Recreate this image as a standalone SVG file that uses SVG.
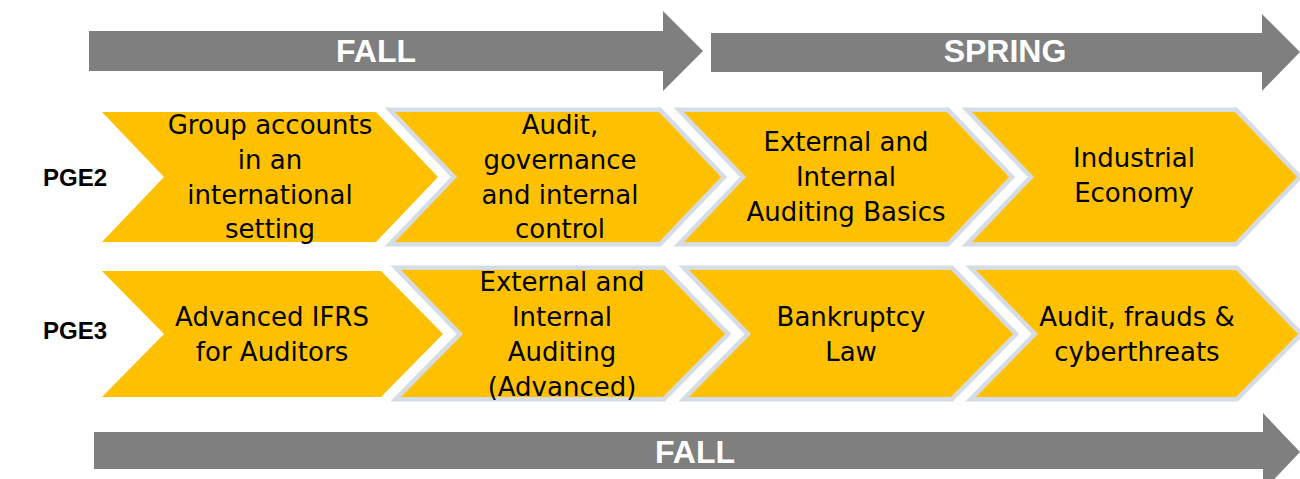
<svg xmlns="http://www.w3.org/2000/svg" width="1300" height="479" viewBox="0 0 1300 479">
<style>
.arrow{fill:#7F7F7F}
.atxt{font-family:"Liberation Sans",Arial,sans-serif;font-weight:bold;font-size:32px;fill:#FFFFFF;text-anchor:middle}
.chev{fill:#FFC000}
.chevb{fill:#FFC000;stroke:#D6DCE5;stroke-width:9;stroke-linejoin:miter;paint-order:stroke}
.ctxt{font-family:"DejaVu Sans","Open Sans",sans-serif;font-size:26px;fill:#000000;text-anchor:middle}
.lbl{font-family:"Liberation Sans",Arial,sans-serif;font-weight:bold;font-size:24px;fill:#000000;text-anchor:middle}
</style>
<rect width="1300" height="479" fill="#FFFFFF"/>
<g id="arrow-fall-top">
<polygon class="arrow" points="89,31 663,31 663,11 703,51 663,91 663,71 89,71"/>
<text class="atxt" x="376" y="62">FALL</text>
</g>
<g id="arrow-spring">
<polygon class="arrow" points="711,33 1262,33 1262,14 1300,52 1262,91 1262,72 711,72"/>
<text class="atxt" x="1005" y="62">SPRING</text>
</g>
<g id="arrow-fall-bottom">
<polygon class="arrow" points="94,432 1263,432 1263,413 1300,452 1263,491 1263,469 94,469"/>
<text class="atxt" x="695" y="463">FALL</text>
</g>
<g id="label-pge2"><text class="lbl" x="75" y="186">PGE2</text></g>
<g id="label-pge3"><text class="lbl" x="75" y="339">PGE3</text></g>
<g id="r1c1">
<polygon class="chev" points="102,112 376,112 438,177 376,242 102,242 164,177"/>
<text class="ctxt"><tspan x="270" y="134">Group accounts</tspan><tspan x="270" y="169">in an</tspan><tspan x="270" y="204">international</tspan><tspan x="270" y="238">setting</tspan></text>
</g>
<g id="r1c2">
<polygon class="chevb" points="395,112 659,112 721,177 659,242 395,242 457,177"/>
<text class="ctxt"><tspan x="560" y="134">Audit,</tspan><tspan x="560" y="169">governance</tspan><tspan x="560" y="204">and internal</tspan><tspan x="560" y="238">control</tspan></text>
</g>
<g id="r1c3">
<polygon class="chevb" points="684,112 947,112 1009,177 947,242 684,242 746,177"/>
<text class="ctxt"><tspan x="846" y="151">External and</tspan><tspan x="846" y="186">Internal</tspan><tspan x="846" y="221">Auditing Basics</tspan></text>
</g>
<g id="r1c4">
<polygon class="chevb" points="972,112 1235,112 1297,177 1235,242 972,242 1034,177"/>
<text class="ctxt"><tspan x="1134" y="167">Industrial</tspan><tspan x="1134" y="202">Economy</tspan></text>
</g>
<g id="r2c1">
<polygon class="chev" points="102,271 381,271 443,334 381,397 102,397 164,334"/>
<text class="ctxt"><tspan x="272" y="326">Advanced IFRS</tspan><tspan x="272" y="361">for Auditors</tspan></text>
</g>
<g id="r2c2">
<polygon class="chevb" points="401,270 663,270 725,334 663,397 401,397 463,334"/>
<text class="ctxt"><tspan x="562" y="291">External and</tspan><tspan x="562" y="326">Internal</tspan><tspan x="562" y="361">Auditing</tspan><tspan x="562" y="396">(Advanced)</tspan></text>
</g>
<g id="r2c3">
<polygon class="chevb" points="689,270 951,270 1013,334 951,397 689,397 751,334"/>
<text class="ctxt"><tspan x="851" y="326">Bankruptcy</tspan><tspan x="851" y="361">Law</tspan></text>
</g>
<g id="r2c4">
<polygon class="chevb" points="976,270 1236,270 1298,334 1236,397 976,397 1038,334"/>
<text class="ctxt"><tspan x="1137" y="326">Audit, frauds &amp;</tspan><tspan x="1137" y="361">cyberthreats</tspan></text>
</g>
<g id="connectors"></g>
</svg>
